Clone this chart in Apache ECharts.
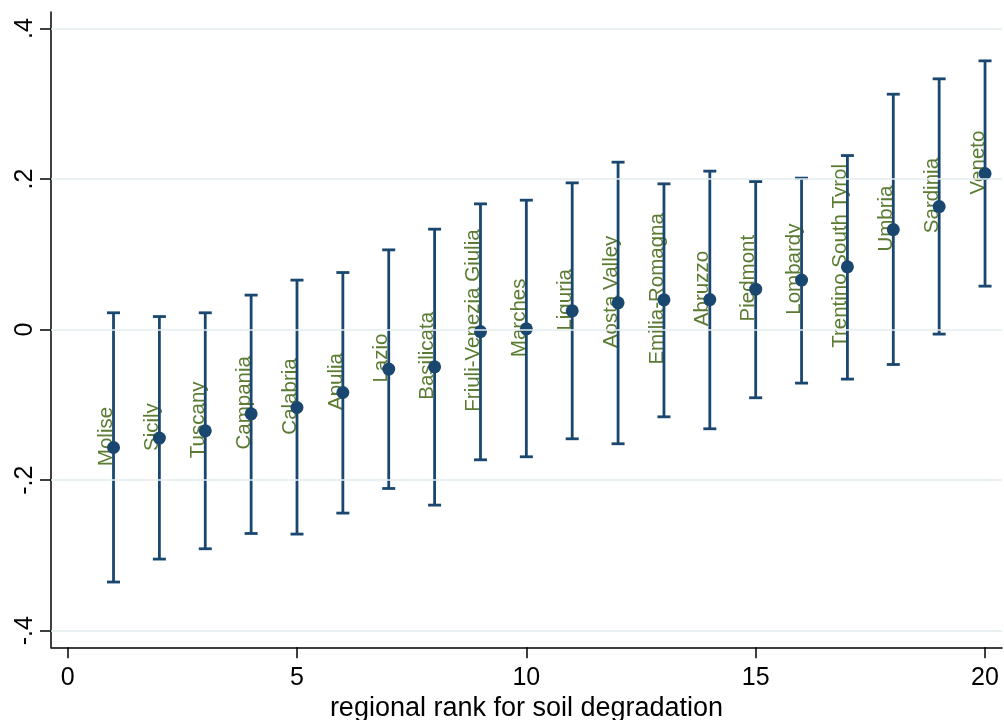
<!DOCTYPE html>
<html><head><meta charset="utf-8">
<script src="https://cdn.jsdelivr.net/npm/echarts@6/dist/echarts.min.js"></script>
<style>html,body{margin:0;padding:0;background:#fff}#c{width:1004px;height:720px}</style>
</head><body><div id="c"></div>
<script>
const regions = ["Molise","Sicily","Tuscany","Campania","Calabria","Apulia","Lazio","Basilicata","Friuli-Venezia Giulia","Marches","Liguria","Aosta Valley","Emilia-Romagna","Abruzzo","Piedmont","Lombardy","Trentino South Tyrol","Umbria","Sardinia","Veneto"];
const ranks = [1,2,3,4,5,6,7,8,9,10,11,12,13,14,15,16,17,18,19,20];
const estimates = [-0.1566,-0.1441,-0.1344,-0.1118,-0.1034,-0.0835,-0.0524,-0.0494,-0.0025,0.0011,0.025,0.0356,0.0396,0.040,0.0538,0.0658,0.0834,0.133,0.1635,0.2074];
const upper = [0.0224,0.0174,0.0224,0.0459,0.0658,0.0759,0.106,0.1335,0.1671,0.172,0.195,0.2225,0.1937,0.2106,0.1967,0.2013,0.2313,0.3128,0.3332,0.3571];
const lower = [-0.3353,-0.3048,-0.2911,-0.2708,-0.2716,-0.2437,-0.211,-0.2331,-0.1729,-0.1689,-0.145,-0.1516,-0.1158,-0.1317,-0.0905,-0.071,-0.0657,-0.0463,-0.0059,0.0578];
const xTicks = [0,5,10,15,20];
const yTicks = [-0.4,-0.2,0,0.2,0.4];
const yTickLabels = ["-.4","-.2","0",".2",".4"];
const xTitle = "regional rank for soil degradation";

const NAVY = '#1a476f', GREEN = '#5a7b31', GRID = '#e3ecef';
const FONT = '"Liberation Sans", Arial, Helvetica, sans-serif';

const chart = echarts.init(document.getElementById('c'), null, {renderer: 'canvas'});
const barData = ranks.map((r, i) => [r, lower[i], upper[i]]);
const ptData = ranks.map((r, i) => [r, estimates[i]]);

const axisLineStyle = {color: '#000', width: 1.5};

const option = {
  animation: false,
  backgroundColor: '#fff',
  grid: {left: 51, right: 2, top: 12, bottom: 72.7, containLabel: false, outerBoundsMode: 'none'},
  xAxis: {
    type: 'value', min: -0.363, max: 20.37,
    axisLine: {show: true, onZero: false, lineStyle: axisLineStyle},
    axisTick: {show: true, customValues: xTicks, length: 11, lineStyle: axisLineStyle},
    axisLabel: {customValues: xTicks, fontSize: 25, color: '#000', margin: 18, fontFamily: FONT},
    splitLine: {show: false},
    name: xTitle, nameLocation: 'middle', nameGap: 41,
    nameTextStyle: {fontSize: 27, color: '#000', fontFamily: FONT}
  },
  yAxis: {
    type: 'value', min: -0.422, max: 0.422,
    axisLine: {show: true, onZero: false, lineStyle: axisLineStyle},
    axisTick: {show: true, customValues: yTicks, length: 11, lineStyle: axisLineStyle},
    axisLabel: {
      customValues: yTicks, rotate: 90, fontSize: 25, color: '#000', margin: 13, fontFamily: FONT,
      formatter: v => { const i = yTicks.findIndex(t => Math.abs(t - v) < 1e-9); return i >= 0 ? yTickLabels[i] : ''; }
    },
    splitLine: {show: false}
  },
  series: [
    {
      type: 'line', data: [], z: 0, silent: true,
      markLine: {
        silent: true, symbol: 'none', animation: false,
        label: {show: false},
        lineStyle: {color: GRID, width: 1.7, type: 'solid'},
        data: yTicks.map(v => ({yAxis: v}))
      }
    },
    {
      type: 'custom', z: 1, data: ptData, encode: {x: 0, y: 1}, silent: true,
      renderItem: (params, api) => {
        const p = api.coord([api.value(0), api.value(1)]);
        return {
          type: 'text', x: p[0] - 7, y: p[1] - 11, rotation: Math.PI / 2,
          style: {text: regions[params.dataIndex], fill: GREEN, fontSize: 20.5, fontFamily: FONT, align: 'center', verticalAlign: 'middle'}
        };
      }
    },
    {
      type: 'custom', z: 2, data: barData, encode: {x: 0, y: [1, 2]}, silent: true,
      renderItem: (params, api) => {
        const x = api.value(0);
        const lo = api.coord([x, api.value(1)]);
        const hi = api.coord([x, api.value(2)]);
        const hw = 6.5;
        const st = {stroke: NAVY, lineWidth: 2.8};
        return {
          type: 'group', children: [
            {type: 'line', shape: {x1: lo[0], y1: lo[1], x2: hi[0], y2: hi[1]}, style: st},
            {type: 'line', shape: {x1: lo[0] - hw, y1: lo[1], x2: lo[0] + hw, y2: lo[1]}, style: st},
            {type: 'line', shape: {x1: hi[0] - hw, y1: hi[1], x2: hi[0] + hw, y2: hi[1]}, style: st}
          ]
        };
      }
    },
    {
      type: 'scatter', z: 3, data: ptData, symbol: 'circle', symbolSize: 13, silent: true,
      itemStyle: {color: NAVY, opacity: 1}
    }
  ]
};
chart.setOption(option);
</script>
</body></html>
